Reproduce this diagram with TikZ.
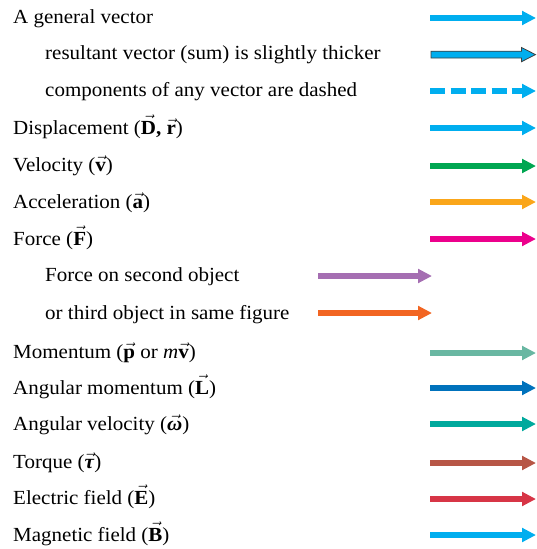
\documentclass[tikz,border=0pt]{standalone}
\usepackage{fontspec}
\setmainfont{Liberation Serif}[FakeStretch=1.05]
\usetikzlibrary{arrows.meta}
\definecolor{cgen}{RGB}{0,174,239}
\definecolor{cvel}{RGB}{0,166,81}
\definecolor{cacc}{RGB}{250,166,26}
\definecolor{cfor}{RGB}{236,0,140}
\definecolor{cpur}{RGB}{165,110,178}
\definecolor{cora}{RGB}{242,101,34}
\definecolor{cmom}{RGB}{105,183,162}
\definecolor{cang}{RGB}{0,114,188}
\definecolor{cavel}{RGB}{0,169,157}
\definecolor{ctor}{RGB}{183,86,70}
\definecolor{cele}{RGB}{215,53,70}
\definecolor{cmag}{RGB}{0,174,239}
\newcommand{\bv}[1]{$\vec{\textbf{#1}}$}
\begin{document}
\begin{tikzpicture}[x=1pt,y=-1pt,
  lbl/.style={anchor=base west,inner sep=0pt,font=\fontsize{20}{22}\selectfont},
  vecarrow/.style={line width=5.3pt,-{Triangle[length=14pt,width=13.5pt]}},
  ]
\useasboundingbox (0,0) rectangle (536,549);
% labels
\node[lbl] (t1) at (13,23) {A general vector};
\node[lbl] (t2) at (45,59) {resultant vector (sum) is slightly thicker};
\node[lbl] (t3) at (45,96) {components of any vector are dashed};
\node[lbl] (t4) at (13,134) {Displacement (\bv{D}\textbf{,} \bv{r})};
\node[lbl] (t5) at (13,171) {Velocity (\bv{v})};
\node[lbl] (t6) at (13,208) {Acceleration (\bv{a})};
\node[lbl] (t7) at (13,245) {Force (\bv{F})};
\node[lbl] (t8) at (45,281) {Force on second object};
\node[lbl] (t9) at (45,319) {or third object in same figure};
\node[lbl] (t10) at (13,358) {Momentum (\bv{p} or \textit{m}\bv{v})};
\node[lbl] (t11) at (13,394) {Angular momentum (\bv{L})};
\node[lbl] (t12) at (13,430) {Angular velocity ($\vec{\textbf{\textit{ω}}}$)};
\node[lbl] (t13) at (13,468) {Torque ($\vec{\textbf{\textit{τ}}}$)};
\node[lbl] (t14) at (13,504) {Electric field (\bv{E})};
\node[lbl] (t15) at (13,541) {Magnetic field (\bv{B})};
% arrow endpoints
\coordinate (a1s) at (430,18);  \coordinate (a1e) at (536,18);
\coordinate (a3s) at (430,91);  \coordinate (a3m) at (511.5,91); \coordinate (a3e) at (536,91);
\coordinate (a4s) at (430,128); \coordinate (a4e) at (536,128);
\coordinate (a5s) at (430,166); \coordinate (a5e) at (536,166);
\coordinate (a6s) at (430,202); \coordinate (a6e) at (536,202);
\coordinate (a7s) at (430,239); \coordinate (a7e) at (536,239);
\coordinate (a8s) at (318,276); \coordinate (a8e) at (432,276);
\coordinate (a9s) at (318,313); \coordinate (a9e) at (432,313);
\coordinate (a10s) at (430,353); \coordinate (a10e) at (536,353);
\coordinate (a11s) at (430,388); \coordinate (a11e) at (536,388);
\coordinate (a12s) at (430,424); \coordinate (a12e) at (536,424);
\coordinate (a13s) at (430,463); \coordinate (a13e) at (536,463);
\coordinate (a14s) at (430,499); \coordinate (a14e) at (536,499);
\coordinate (a15s) at (430,535); \coordinate (a15e) at (536,535);
% arrows
\draw[vecarrow,cgen] (a1s) -- (a1e);
% resultant (thicker, outlined)
\filldraw[fill=cgen,draw=black!75,line width=0.8pt,line join=miter]
  (431,51.2) -- (521.5,51.2) -- (521.5,47.5) -- (535.5,54.6) -- (521.5,61.7)
  -- (521.5,58) -- (431,58) -- cycle;
% components (dashed)
\draw[vecarrow,cgen,-,dash pattern=on 15pt off 5.5pt] (a3s) -- (506.5,91);
\draw[vecarrow,cgen] (a3m) -- (a3e);
\draw[vecarrow,cgen] (a4s) -- (a4e);
\draw[vecarrow,cvel] (a5s) -- (a5e);
\draw[vecarrow,cacc] (a6s) -- (a6e);
\draw[vecarrow,cfor] (a7s) -- (a7e);
\draw[vecarrow,cpur] (a8s) -- (a8e);
\draw[vecarrow,cora] (a9s) -- (a9e);
\draw[vecarrow,cmom] (a10s) -- (a10e);
\draw[vecarrow,cang] (a11s) -- (a11e);
\draw[vecarrow,cavel] (a12s) -- (a12e);
\draw[vecarrow,ctor] (a13s) -- (a13e);
\draw[vecarrow,cele] (a14s) -- (a14e);
\draw[vecarrow,cmag] (a15s) -- (a15e);
\end{tikzpicture}
\end{document}
